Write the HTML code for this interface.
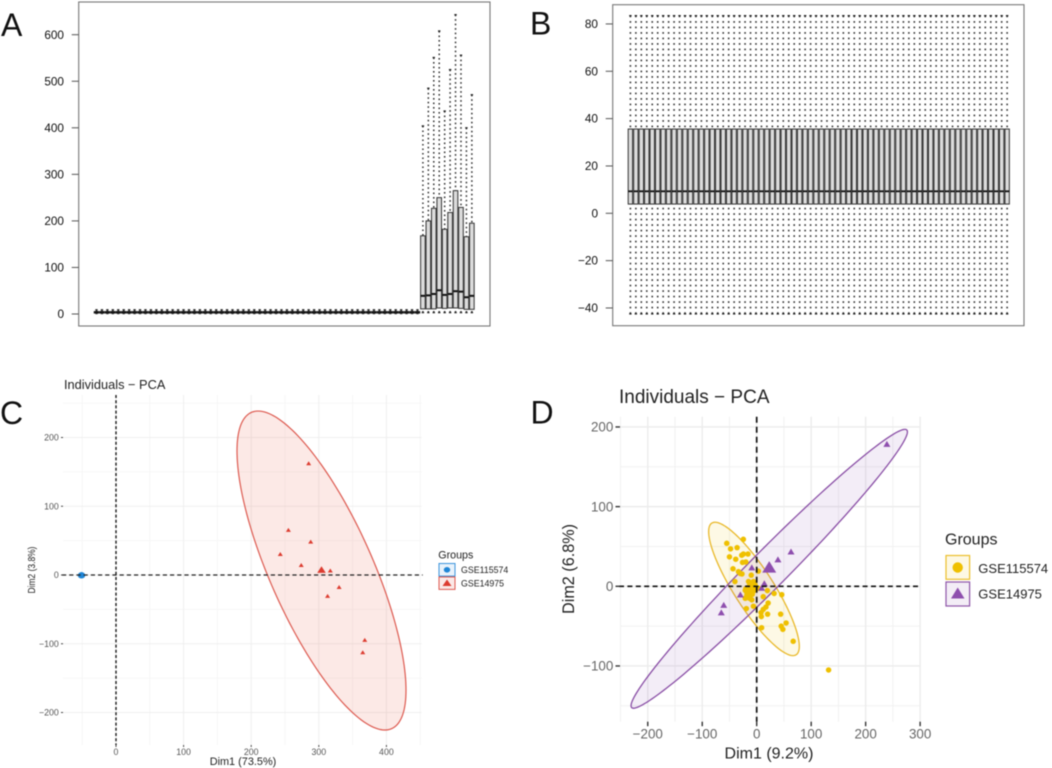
<!DOCTYPE html>
<html lang="en">
<head>
<meta charset="utf-8">
<title>Boxplots and PCA panels</title>
<style>
html,body{margin:0;padding:0;background:#fff;width:1052px;height:768px;overflow:hidden}
svg{display:block;filter:blur(0.4px)}
text{font-family:"Liberation Sans",sans-serif}
</style>
</head>
<body>
<svg id="figure" xmlns="http://www.w3.org/2000/svg" width="1052" height="768" viewBox="0 0 1052 768">
  <rect x="0" y="0" width="1052" height="768" fill="#fff"/>

  <g id="panel-a">
    <rect x="78.7" y="2" width="411.3" height="324" fill="none" stroke="#777" stroke-width="1.1"/>
    <text x="1" y="36" font-size="32" fill="#111">A</text>
  </g>
  <g id="panel-b">
    <rect x="612.7" y="4.7" width="411.3" height="321" fill="none" stroke="#777" stroke-width="1.1"/>
    <text x="530" y="34.5" font-size="32" fill="#111">B</text>
  </g>
  <g id="panel-c">
    <text x="0" y="424" font-size="32" fill="#111">C</text>
    <text x="64" y="389" font-size="12.8" fill="#222">Individuals − PCA</text>
    <text x="243" y="764.8" font-size="10.9" text-anchor="middle" fill="#222">Dim1 (73.5%)</text>
    <text transform="translate(35,570) rotate(-90)" x="0" y="0" font-size="10.5" text-anchor="middle" textLength="47" lengthAdjust="spacingAndGlyphs" fill="#222">Dim2 (3.8%)</text>
    <g>
      <text x="438.3" y="558.7" font-size="10.7" fill="#222">Groups</text>
      <g>
        <rect x="439" y="563.5" width="16" height="12.6" fill="#e8f2fb" stroke="#3b94dc" stroke-width="1"/>
        <ellipse cx="447" cy="569.8" rx="3.2" ry="2.8" fill="#1f86d6"/>
        <text x="461" y="573" font-size="8.8" fill="#222">GSE115574</text>
      </g>
      <g>
        <rect x="439" y="577" width="16" height="12.4" fill="#fbe9e7" stroke="#dd5a50" stroke-width="1"/>
        <polygon points="447,579.5 451.5,586 442.5,586" fill="#dc3c30"/>
        <text x="461" y="586.7" font-size="8.8" fill="#222">GSE14975</text>
      </g>
    </g>
  </g>
  <g id="panel-d">
    <text x="530.5" y="423.5" font-size="32" fill="#111">D</text>
    <text x="619" y="403" font-size="19" fill="#222">Individuals − PCA</text>
    <text x="769" y="758.3" font-size="16" text-anchor="middle" fill="#222">Dim1 (9.2%)</text>
    <text transform="translate(574,569) rotate(-90)" x="0" y="0" font-size="16.2" text-anchor="middle" fill="#222">Dim2 (6.8%)</text>
    <g>
      <text x="945" y="544.5" font-size="16" fill="#222">Groups</text>
      <g>
        <rect x="946" y="555.5" width="23.6" height="23.8" fill="#fdf8e3" stroke="#ecbf2c" stroke-width="1.2"/>
        <circle cx="957.7" cy="567.5" r="5.2" fill="#efc000"/>
        <text x="978.3" y="572.8" font-size="13" fill="#222">GSE115574</text>
      </g>
      <g>
        <rect x="946" y="582" width="23.6" height="24" fill="#f3edf6" stroke="#8e55a8" stroke-width="1.2"/>
        <polygon points="957.7,587.5 964.5,598.5 951,598.5" fill="#8e4eae"/>
        <text x="978.3" y="598.6" font-size="13" fill="#222">GSE14975</text>
      </g>
    </g>
  </g>
</svg>
<script>
// ---------- Panel A data: 70 samples ----------
const aTicks = [0, 100, 200, 300, 400, 500, 600];
const aLower = [
  1,1,1,1,1,1,1,1,1,1, 1,1,1,1,1,1,1,1,1,1,
  1,1,1,1,1,1,1,1,1,1, 1,1,1,1,1,1,1,1,1,1,
  1,1,1,1,1,1,1,1,1,1, 1,1,1,1,1,1,1,1,1,1,
  3,3,3,3,3,3,3,3,3,3];
const aQ1 = [
  2,2,2,2,2,2,2,2,2,2, 2,2,2,2,2,2,2,2,2,2,
  2,2,2,2,2,2,2,2,2,2, 2,2,2,2,2,2,2,2,2,2,
  2,2,2,2,2,2,2,2,2,2, 2,2,2,2,2,2,2,2,2,2,
  11,11,11,13,12,13,13,12,10,10];
const aMedian = [
  4,4,4,4,4,4,4,4,4,4, 4,4,4,4,4,4,4,4,4,4,
  4,4,4,4,4,4,4,4,4,4, 4,4,4,4,4,4,4,4,4,4,
  4,4,4,4,4,4,4,4,4,4, 4,4,4,4,4,4,4,4,4,4,
  39,40,43,51,41,43,49,48,36,39];
const aQ3 = [
  5,5,5,5,5,5,5,5,5,5, 5,5,5,5,5,5,5,5,5,5,
  5,5,5,5,5,5,5,5,5,5, 5,5,5,5,5,5,5,5,5,5,
  5,5,5,5,5,5,5,5,5,5, 5,5,5,5,5,5,5,5,5,5,
  168,200,227,250,182,218,265,229,166,195];
const aUpper = [
  9,9,9,9,9,9,9,9,9,9, 9,9,9,9,9,9,9,9,9,9,
  9,9,9,9,9,9,9,9,9,9, 9,9,9,9,9,9,9,9,9,9,
  9,9,9,9,9,9,9,9,9,9, 9,9,9,9,9,9,9,9,9,9,
  404,485,551,608,436,525,643,556,400,471];

// ---------- Panel B data: 70 samples ----------
const bTicks = [-40, -20, 0, 20, 40, 60, 80];
const bLower = [
  -42.5,-42.5,-42.5,-42.5,-42.5,-42.5,-42.5,-42.5,-42.5,-42.5, -42.5,-42.5,-42.5,-42.5,-42.5,-42.5,-42.5,-42.5,-42.5,-42.5,
  -42.5,-42.5,-42.5,-42.5,-42.5,-42.5,-42.5,-42.5,-42.5,-42.5, -42.5,-42.5,-42.5,-42.5,-42.5,-42.5,-42.5,-42.5,-42.5,-42.5,
  -42.5,-42.5,-42.5,-42.5,-42.5,-42.5,-42.5,-42.5,-42.5,-42.5, -42.5,-42.5,-42.5,-42.5,-42.5,-42.5,-42.5,-42.5,-42.5,-42.5,
  -42.5,-42.5,-42.5,-42.5,-42.5,-42.5,-42.5,-42.5,-42.5,-42.5];
const bQ1 = [
  3.9,3.9,3.9,3.9,3.9,3.9,3.9,3.9,3.9,3.9, 3.9,3.9,3.9,3.9,3.9,3.9,3.9,3.9,3.9,3.9,
  3.9,3.9,3.9,3.9,3.9,3.9,3.9,3.9,3.9,3.9, 3.9,3.9,3.9,3.9,3.9,3.9,3.9,3.9,3.9,3.9,
  3.9,3.9,3.9,3.9,3.9,3.9,3.9,3.9,3.9,3.9, 3.9,3.9,3.9,3.9,3.9,3.9,3.9,3.9,3.9,3.9,
  3.9,3.9,3.9,3.9,3.9,3.9,3.9,3.9,3.9,3.9];
const bMedian = [
  9.3,9.3,9.3,9.3,9.3,9.3,9.3,9.3,9.3,9.3, 9.3,9.3,9.3,9.3,9.3,9.3,9.3,9.3,9.3,9.3,
  9.3,9.3,9.3,9.3,9.3,9.3,9.3,9.3,9.3,9.3, 9.3,9.3,9.3,9.3,9.3,9.3,9.3,9.3,9.3,9.3,
  9.3,9.3,9.3,9.3,9.3,9.3,9.3,9.3,9.3,9.3, 9.3,9.3,9.3,9.3,9.3,9.3,9.3,9.3,9.3,9.3,
  9.3,9.3,9.3,9.3,9.3,9.3,9.3,9.3,9.3,9.3];
const bQ3 = [
  35.6,35.6,35.6,35.6,35.6,35.6,35.6,35.6,35.6,35.6, 35.6,35.6,35.6,35.6,35.6,35.6,35.6,35.6,35.6,35.6,
  35.6,35.6,35.6,35.6,35.6,35.6,35.6,35.6,35.6,35.6, 35.6,35.6,35.6,35.6,35.6,35.6,35.6,35.6,35.6,35.6,
  35.6,35.6,35.6,35.6,35.6,35.6,35.6,35.6,35.6,35.6, 35.6,35.6,35.6,35.6,35.6,35.6,35.6,35.6,35.6,35.6,
  35.6,35.6,35.6,35.6,35.6,35.6,35.6,35.6,35.6,35.6];
const bUpper = [
  83.5,83.5,83.5,83.5,83.5,83.5,83.5,83.5,83.5,83.5, 83.5,83.5,83.5,83.5,83.5,83.5,83.5,83.5,83.5,83.5,
  83.5,83.5,83.5,83.5,83.5,83.5,83.5,83.5,83.5,83.5, 83.5,83.5,83.5,83.5,83.5,83.5,83.5,83.5,83.5,83.5,
  83.5,83.5,83.5,83.5,83.5,83.5,83.5,83.5,83.5,83.5, 83.5,83.5,83.5,83.5,83.5,83.5,83.5,83.5,83.5,83.5,
  83.5,83.5,83.5,83.5,83.5,83.5,83.5,83.5,83.5,83.5];

// ---------- Panel C data ----------
const cXTicks = [0, 100, 200, 300, 400];
const cYTicks = [-200, -100, 0, 100, 200];
const cXMinor = [-50, 50, 150, 250, 350, 450];
const cYMinor = [-150, -50, 50, 150, 250];
const cBlueX = [-52, -51, -50, -51];
const cBlueY = [-0.5, 0, -0.5, -0.5];
const cRedX = [285, 255, 288, 243, 274, 317, 330, 313, 368, 365];
const cRedY = [162, 65, 48, 30, 14, 6, -18, -31, -95, -113];
const cRedMean = [304, 7];
const cEllipse = [304, 6.5, 125, 232, -0.75];

// ---------- Panel D data ----------
const dXTicks = [-200, -100, 0, 100, 200, 300];
const dYTicks = [-100, 0, 100, 200];
const dXMinor = [-250, -150, -50, 50, 150, 250];
const dYMinor = [-150, -50, 50, 150];
const dYellowX = [-24.5,-55,-48,-36,-50,-38.5,-27.5,-24.5,-16,-26,-20,-43.5,-33.5,-27,3,-10,-40,-15,-6,-10,-3,-15,-21,-9,-3,-18,-13,-21,-9,3,19.6,32,46,12,-19,-6,21,17,12,8,20,8.5,44,54,45,48,9,67,132,-12,-6,-15,-18,-12,-30,-8,-20];
const dYellowY = [59,54,47,48.5,37,34,39,40.5,40.5,30,30.5,22,18.4,15.5,19,14,6,6,6,2,2,-1,-5,-5,-4,-11,-15,-15,-17,-2.5,-5.4,-9,-10.5,-13,-28,-25,-21,-26,-29,-33,-35,-38,-35,-46,-50,-54,-52,-69,-105,4,-1,-6,-8,-12,16,-10,-3];
const dYellowMean = [-9, -2.5];
const dPurpleX = [63, 39, -9, 14, 9, -30, -60.5, -65, 239];
const dPurpleY = [43, 33, 23, 3, -2.5, -11, -24, -33.5, 178];
const dPurpleMean = [23, 23];
const dYellowEllipse = [-5, -3.3, 83.2, 83.7, -0.86];
const dPurpleEllipse = [23, 22, 253.7, 175, 0.982];

// ---------- Axis functions ----------
const xA = i => 96.5 + 5.44 * i;
const yA = v => 314 - 0.4655 * v;
const xB = i => 630.4 + 5.46 * i;
const yB = v => 213.3 - 2.367 * v;
const xC = v => 116 + 0.676 * v;
const yC = v => 575 - 0.6875 * v;
const xD = v => 756.7 + 0.5447 * v;
const yD = v => 586.3 - 0.7967 * v;

const NS = 'http://www.w3.org/2000/svg';
function mk(parent, tag, attrs, txt) {
  const el = document.createElementNS(NS, tag);
  for (const k in attrs) el.setAttribute(k, attrs[k]);
  if (txt !== undefined) el.textContent = txt;
  parent.appendChild(el);
  return el;
}
const fmt = v => String(v).replace('-', '\u2212');

function drawBoxes(g, xf, yf, lo, q1, med, q3, hi, boxW, dash, medW, whiskW) {
  for (let i = 0; i < med.length; i++) {
    const cx = xf(i);
    const up = mk(g, 'line', {x1: cx, x2: cx, y1: yf(hi[i]), y2: yf(q3[i]), stroke: '#333', 'stroke-width': whiskW, 'stroke-dasharray': dash});
    
    
    const dn = mk(g, 'line', {x1: cx, x2: cx, y1: yf(lo[i]), y2: yf(q1[i]), stroke: '#333', 'stroke-width': whiskW, 'stroke-dasharray': dash});
    
    
    const capU = mk(g, 'line', {x1: cx - 1.2, x2: cx + 1.2, y1: yf(hi[i]), y2: yf(hi[i]), stroke: '#222', 'stroke-width': 1.3});
    
    
    const capL = mk(g, 'line', {x1: cx - 1.2, x2: cx + 1.2, y1: yf(lo[i]), y2: yf(lo[i]), stroke: '#222', 'stroke-width': 1.3});
    
    
    const box = mk(g, 'rect', {x: cx - boxW / 2, y: yf(q3[i]), width: boxW, height: yf(q1[i]) - yf(q3[i]), fill: '#dcdcdc', stroke: '#333', 'stroke-width': 1});
    
    
    const m = mk(g, 'line', {x1: cx - boxW / 2, x2: cx + boxW / 2, y1: yf(med[i]), y2: yf(med[i]), stroke: '#111', 'stroke-width': medW});
    
    
  }
}

function drawBaseTicks(g, ticks, yf, tickX1, tickX2, labelX) {
  ticks.forEach(t => {
    const ln = mk(g, 'line', {x1: tickX1, x2: tickX2, y1: yf(t), y2: yf(t), stroke: '#555', 'stroke-width': 1});
    
    
    const lb = mk(g, 'text', {x: labelX, y: yf(t) + 4.1, 'font-size': 11.8, 'text-anchor': 'end', fill: '#111'}, fmt(t));
    
    
  });
}

function drawGrid(g, xf, yf, xMajor, yMajor, xMinor, yMinor, box, majorCol, minorCol, majorW, minorW) {
  xMinor.forEach(v => {
    const l = mk(g, 'line', {x1: xf(v), x2: xf(v), y1: box[1], y2: box[3], stroke: minorCol, 'stroke-width': minorW});
    
    
  });
  yMinor.forEach(v => {
    const l = mk(g, 'line', {x1: box[0], x2: box[2], y1: yf(v), y2: yf(v), stroke: minorCol, 'stroke-width': minorW});
    
    
  });
  xMajor.forEach(v => {
    const l = mk(g, 'line', {x1: xf(v), x2: xf(v), y1: box[1], y2: box[3], stroke: majorCol, 'stroke-width': majorW});
    
    
  });
  yMajor.forEach(v => {
    const l = mk(g, 'line', {x1: box[0], x2: box[2], y1: yf(v), y2: yf(v), stroke: majorCol, 'stroke-width': majorW});
    
    
  });
}

function drawPcaAxes(g, xf, yf, xTicks, yTicks, box, fs, col, tickLen, tickW, xLabelY) {
  xTicks.forEach(t => {
    const tk = mk(g, 'line', {x1: xf(t), x2: xf(t), y1: box[3], y2: box[3] + tickLen, stroke: '#333', 'stroke-width': tickW});
    
    
    const lb = mk(g, 'text', {x: xf(t), y: xLabelY, 'font-size': fs, 'text-anchor': 'middle', fill: col}, fmt(t));
    
    
  });
  yTicks.forEach(t => {
    const tk = mk(g, 'line', {x1: box[0] - tickLen, x2: box[0], y1: yf(t), y2: yf(t), stroke: '#333', 'stroke-width': tickW});
    
    
    const lb = mk(g, 'text', {x: box[0] - tickLen - 2.2, y: yf(t) + fs * 0.35, 'font-size': fs, 'text-anchor': 'end', fill: col}, fmt(t));
    
    
  });
}

function ellipsePath(e, xf, yf) {
  const s = Math.sqrt(1 - e[4] * e[4]);
  let d = '';
  for (let k = 0; k < 180; k++) {
    const t = k / 180 * 2 * Math.PI;
    const px = e[0] + e[2] * Math.cos(t);
    const py = e[1] + e[3] * (e[4] * Math.cos(t) + s * Math.sin(t));
    d += (k ? 'L' : 'M') + xf(px).toFixed(2) + ' ' + yf(py).toFixed(2);
  }
  return d + 'Z';
}

function triPoints(cx, cy, w, h) {
  return cx + ',' + (cy - h * 0.6) + ' ' + (cx + w / 2) + ',' + (cy + h * 0.4) + ' ' + (cx - w / 2) + ',' + (cy + h * 0.4);
}

function drawZero(g, xf, yf, box, dashV, dashH, w, colH) {
  const h = mk(g, 'line', {x1: box[0] - 1, x2: box[2] + 1, y1: yf(0), y2: yf(0), stroke: colH, 'stroke-width': w, 'stroke-dasharray': dashH});
  
  
  const v = mk(g, 'line', {x1: xf(0), x2: xf(0), y1: box[1], y2: box[3], stroke: '#111', 'stroke-width': w, 'stroke-dasharray': dashV});
  
  
}

// ---------- Panel A ----------
const gA = document.getElementById('panel-a');
drawBaseTicks(gA, aTicks, yA, 71.7, 78.7, 64);
drawBoxes(gA, xA, yA, aLower, aQ1, aMedian, aQ3, aUpper, 4.6, '1.6 2.9', 2, 1.5);

// ---------- Panel B ----------
const gB = document.getElementById('panel-b');
drawBaseTicks(gB, bTicks, yB, 605.7, 612.7, 598);
drawBoxes(gB, xB, yB, bLower, bQ1, bMedian, bQ3, bUpper, 4.4, '1.6 3.9', 1.8, 1.6);

// ---------- Panel C ----------
const gC = document.getElementById('panel-c');
const boxC = [63, 395, 421.7, 745];
drawGrid(gC, xC, yC, cXTicks, cYTicks, cXMinor, cYMinor, boxC, '#efefef', '#f5f5f5', 1, 0.8);
const ellC = mk(gC, 'path', {d: ellipsePath(cEllipse, xC, yC), fill: '#e64b35', 'fill-opacity': 0.12, stroke: '#dd5a50', 'stroke-width': 1.2});


cBlueX.forEach((v, i) => {
  const c = mk(gC, 'circle', {cx: xC(v), cy: yC(cBlueY[i]), r: 3, fill: '#1f86d6'});
  
  
});
cRedX.forEach((v, i) => {
  const p = mk(gC, 'polygon', {points: triPoints(xC(v), yC(cRedY[i]), 5, 4), fill: '#dc3c30'});
  
  
});
const meanC = mk(gC, 'polygon', {points: triPoints(xC(cRedMean[0]), yC(cRedMean[1]), 8.6, 6.6), fill: '#dc3c30'});


drawZero(gC, xC, yC, boxC, '3 2.2', '4.2 3', 1.35, '#222');
drawPcaAxes(gC, xC, yC, cXTicks, cYTicks, boxC, 8.8, '#555', 2, 0.9, 754.8);

// ---------- Panel D ----------
const gD = document.getElementById('panel-d');
const boxD = [620, 416.7, 920, 721.7];
drawGrid(gD, xD, yD, dXTicks, dYTicks, dXMinor, dYMinor, boxD, '#ececec', '#f1f1f1', 1.4, 1);
const ellY = mk(gD, 'path', {d: ellipsePath(dYellowEllipse, xD, yD), fill: '#efc000', 'fill-opacity': 0.1, stroke: '#e9b92a', 'stroke-width': 1.3});


const ellP = mk(gD, 'path', {d: ellipsePath(dPurpleEllipse, xD, yD), fill: '#8e4eae', 'fill-opacity': 0.1, stroke: '#8a4fa6', 'stroke-width': 1.3});


dYellowX.forEach((v, i) => {
  const c = mk(gD, 'circle', {cx: xD(v), cy: yD(dYellowY[i]), r: 2.75, fill: '#efc000'});
  
  
});
const meanY = mk(gD, 'circle', {cx: xD(dYellowMean[0]), cy: yD(dYellowMean[1]), r: 6, fill: '#efc000'});


dPurpleX.forEach((v, i) => {
  const p = mk(gD, 'polygon', {points: triPoints(xD(v), yD(dPurpleY[i]), 7, 6), fill: '#8e4eae'});
  
  
});
const meanP = mk(gD, 'polygon', {points: triPoints(xD(dPurpleMean[0]), yD(dPurpleMean[1]), 14, 11.5), fill: '#8e4eae'});


drawZero(gD, xD, yD, boxD, '6 4', '5 3.4', 1.7, '#111');
drawPcaAxes(gD, xD, yD, dXTicks, dYTicks, boxD, 13.4, '#666', 4.5, 1.4, 738.6);
</script>
</body>
</html>
